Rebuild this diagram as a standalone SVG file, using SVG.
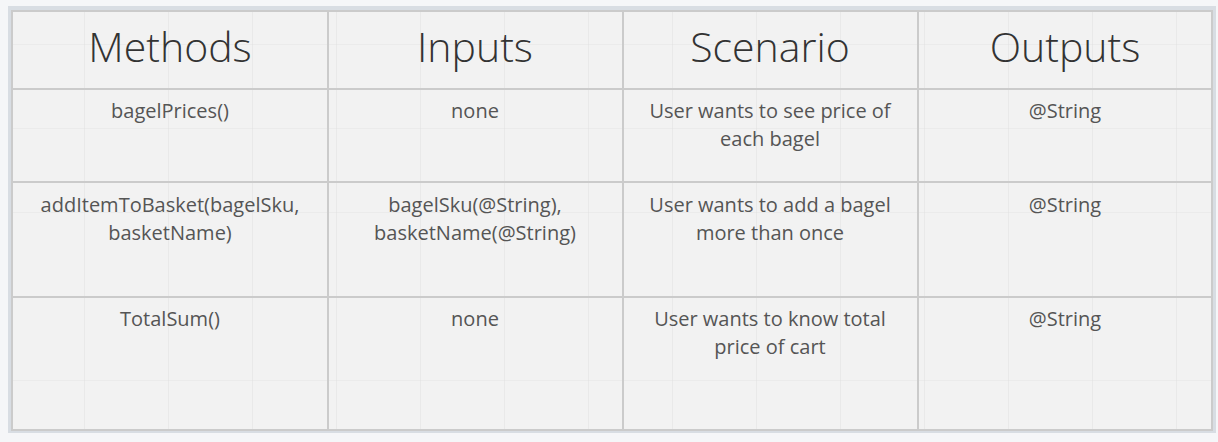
<svg xmlns="http://www.w3.org/2000/svg" width="1218" height="442" viewBox="0 0 1218 442">
  <defs>
    <pattern id="grid" x="1" y="-39" width="84" height="84" patternUnits="userSpaceOnUse">
      <path d="M84 0 V84 M0 84 H84" fill="none" stroke="#e3e3e3" stroke-width="1.2"/>
    </pattern>
  </defs>
  <style>
    .hdr { font-family: "Open Sans", "Noto Sans", sans-serif; font-size: 41px; font-weight: 300; fill: #333333; text-anchor: middle; }
    .txt { font-family: "Open Sans", "Noto Sans", sans-serif; font-size: 20px; fill: #555555; text-anchor: middle; }
    .line { stroke: #cbcbcb; stroke-width: 2; fill: none; }
  </style>
  <rect x="0" y="0" width="1218" height="442" fill="#f5f6f8"/>
  <rect x="8" y="6" width="1208" height="427" fill="#d8dde3"/>
  <rect x="12" y="10" width="1200" height="421" fill="#f2f2f2"/>
  <rect x="12" y="10" width="1200" height="421" fill="url(#grid)"/>
  <g id="table-lines">
    <rect class="line" x="12" y="11" width="1200" height="419"/>
    <line class="line" x1="328" y1="11" x2="328" y2="430"/>
    <line class="line" x1="623" y1="11" x2="623" y2="430"/>
    <line class="line" x1="918" y1="11" x2="918" y2="430"/>
    <line class="line" x1="12" y1="89" x2="1212" y2="89"/>
    <line class="line" x1="12" y1="182" x2="1212" y2="182"/>
    <line class="line" x1="12" y1="297" x2="1212" y2="297"/>
  </g>
  <g id="header-methods"><text class="hdr" x="170" y="62">Methods</text></g>
  <g id="header-inputs"><text class="hdr" x="475" y="62">Inputs</text></g>
  <g id="header-scenario"><text class="hdr" x="770" y="62">Scenario</text></g>
  <g id="header-outputs"><text class="hdr" x="1065" y="62">Outputs</text></g>

  <g id="r1-method"><text class="txt" x="170" y="118">bagelPrices()</text></g>
  <g id="r1-input"><text class="txt" x="475" y="118">none</text></g>
  <g id="r1-scenario"><text class="txt" x="770" y="118">User wants to see price of</text><text class="txt" x="770" y="146">each bagel</text></g>
  <g id="r1-output"><text class="txt" x="1065" y="118">@String</text></g>

  <g id="r2-method"><text class="txt" x="170" y="212">addItemToBasket(bagelSku,</text><text class="txt" x="170" y="240">basketName)</text></g>
  <g id="r2-input"><text class="txt" x="475" y="212">bagelSku(@String),</text><text class="txt" x="475" y="240">basketName(@String)</text></g>
  <g id="r2-scenario"><text class="txt" x="770" y="212">User wants to add a bagel</text><text class="txt" x="770" y="240">more than once</text></g>
  <g id="r2-output"><text class="txt" x="1065" y="212">@String</text></g>

  <g id="r3-method"><text class="txt" x="170" y="326">TotalSum()</text></g>
  <g id="r3-input"><text class="txt" x="475" y="326">none</text></g>
  <g id="r3-scenario"><text class="txt" x="770" y="326">User wants to know total</text><text class="txt" x="770" y="354">price of cart</text></g>
  <g id="r3-output"><text class="txt" x="1065" y="326">@String</text></g>
</svg>
